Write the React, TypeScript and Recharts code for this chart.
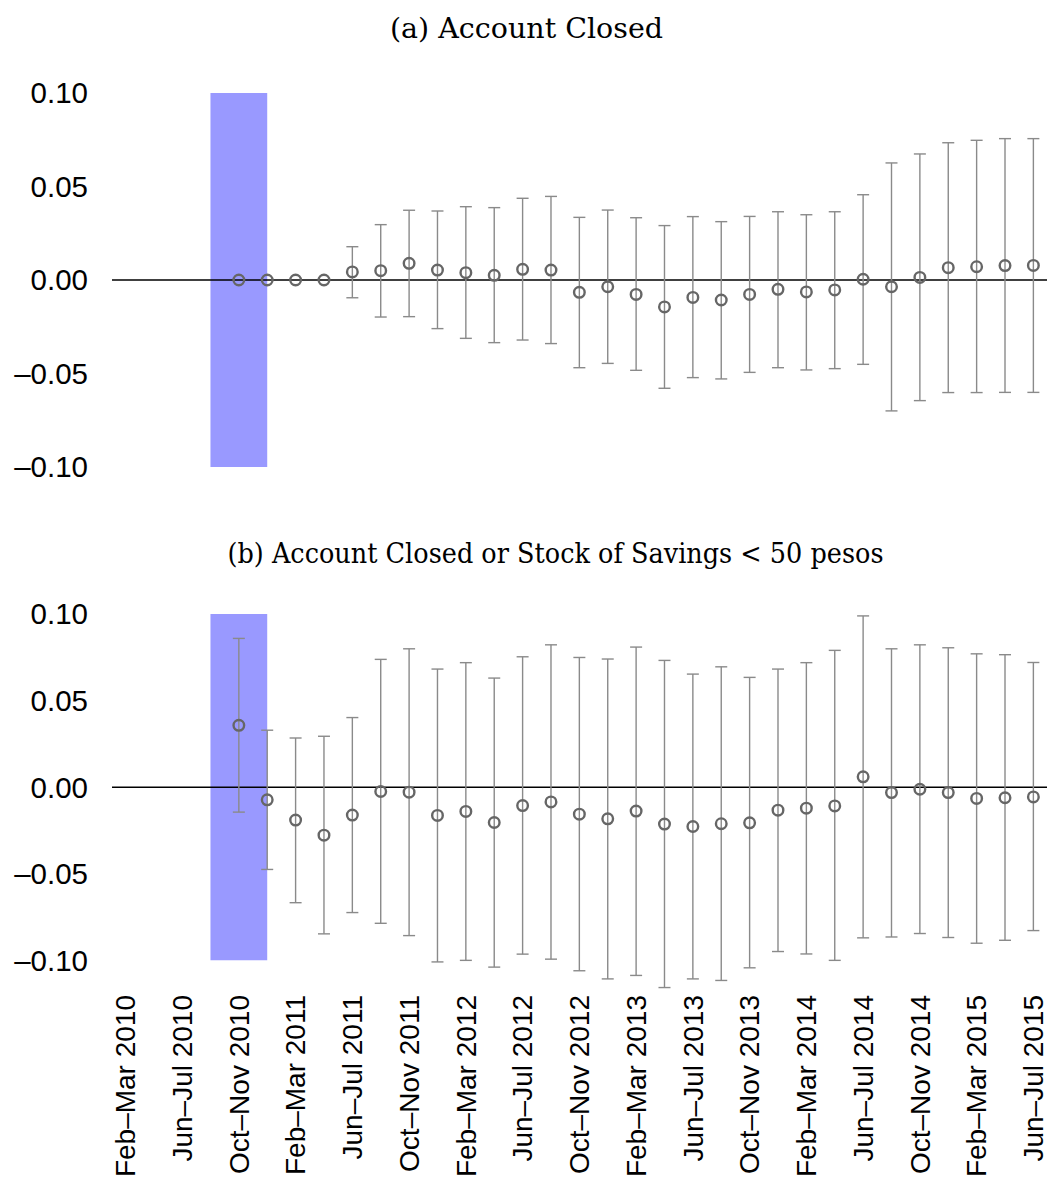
import { ScatterChart, Scatter, XAxis, YAxis, ErrorBar, ReferenceArea, ReferenceLine } from "recharts"

// bimonthly survey periods
const periods = [
  "Feb–Mar 2010", "Apr–May 2010", "Jun–Jul 2010", "Aug–Sep 2010", "Oct–Nov 2010", "Dec–Jan 2011",
  "Feb–Mar 2011", "Apr–May 2011", "Jun–Jul 2011", "Aug–Sep 2011", "Oct–Nov 2011", "Dec–Jan 2012",
  "Feb–Mar 2012", "Apr–May 2012", "Jun–Jul 2012", "Aug–Sep 2012", "Oct–Nov 2012", "Dec–Jan 2013",
  "Feb–Mar 2013", "Apr–May 2013", "Jun–Jul 2013", "Aug–Sep 2013", "Oct–Nov 2013", "Dec–Jan 2014",
  "Feb–Mar 2014", "Apr–May 2014", "Jun–Jul 2014", "Aug–Sep 2014", "Oct–Nov 2014", "Dec–Jan 2015",
  "Feb–Mar 2015", "Apr–May 2015", "Jun–Jul 2015",
]
const xTicks = [0, 2, 4, 6, 8, 10, 12, 14, 16, 18, 20, 22, 24, 26, 28, 30, 32]
const yTicks = [-0.1, -0.05, 0, 0.05, 0.1]

const titleA = "(a) Account Closed"
const titleB = "(b) Account Closed or Stock of Savings < 50 pesos"

// shaded treatment window (period indices)
const shadeFrom = 3
const shadeTo = 5

// (a) Account Closed
const closedEst = [
  null, null, null, null, 0, 0, 0, 0, 0.0043, 0.005, 0.0089, 0.0053, 0.0039, 0.0025, 0.0057, 0.0053,
  -0.0066, -0.0036, -0.0077, -0.0144, -0.0093, -0.0107, -0.0077, -0.005, -0.0064, -0.0053, 0.0004,
  -0.0036, 0.0014, 0.0066, 0.0071, 0.0077, 0.0078,
]
const closedLo = [
  null, null, null, null, null, null, null, null, -0.0095, -0.0198, -0.0196, -0.026, -0.0312, -0.0335,
  -0.0321, -0.034, -0.0469, -0.0446, -0.0483, -0.0579, -0.0522, -0.0529, -0.0494, -0.0469, -0.0481,
  -0.0474, -0.0451, -0.07, -0.0645, -0.0602, -0.0602, -0.0601, -0.0601,
]
const closedHi = [
  null, null, null, null, null, null, null, null, 0.0178, 0.0296, 0.0373, 0.0369, 0.0392, 0.0387,
  0.0437, 0.0447, 0.0335, 0.0374, 0.0333, 0.0291, 0.0339, 0.0312, 0.034, 0.0365, 0.0349, 0.0365,
  0.0456, 0.0626, 0.0674, 0.0734, 0.0747, 0.0756, 0.0756,
]

// (b) Account Closed or Stock of Savings < 50 pesos
const lowEst = [
  null, null, null, null, 0.0357, -0.0073, -0.019, -0.0277, -0.0161, -0.0025, -0.0029, -0.0163,
  -0.014, -0.0204, -0.0106, -0.0085, -0.0156, -0.0183, -0.0138, -0.0213, -0.0227, -0.0211, -0.0206,
  -0.0133, -0.0121, -0.0108, 0.006, -0.0031, -0.0012, -0.0031, -0.0065, -0.0061, -0.0056,
]
const lowLo = [
  null, null, null, null, -0.0144, -0.0475, -0.0667, -0.0847, -0.0724, -0.0786, -0.0857, -0.1009,
  -0.1, -0.1039, -0.0964, -0.0993, -0.106, -0.1107, -0.1087, -0.1157, -0.1107, -0.1116, -0.1043,
  -0.0949, -0.0963, -0.1, -0.087, -0.0865, -0.0845, -0.0868, -0.0901, -0.0884, -0.0828,
]
const lowHi = [
  null, null, null, null, 0.0859, 0.0329, 0.0284, 0.0294, 0.0402, 0.0738, 0.0799, 0.0682, 0.0719,
  0.063, 0.0753, 0.0822, 0.0749, 0.074, 0.0809, 0.0732, 0.0653, 0.0695, 0.0634, 0.0682, 0.0719,
  0.079, 0.0989, 0.0799, 0.0822, 0.0805, 0.077, 0.0765, 0.072,
]

const SANS = "'Liberation Sans', Arial, Helvetica, sans-serif"
const SERIF = "'DejaVu Serif', serif"

function build(est: (number | null)[], lo: (number | null)[], hi: (number | null)[]) {
  const pts: { x: number; y: number }[] = []
  const cis: { x: number; y: number; err: number[] }[] = []
  est.forEach((v, i) => {
    if (v === null) return
    pts.push({ x: i, y: v })
    const l = lo[i]
    const h = hi[i]
    if (l !== null && h !== null) cis.push({ x: i, y: v, err: [v - l, h - v] })
  })
  return { pts, cis }
}

const fmtY = (v: number) => (v < 0 ? "–" : "") + Math.abs(v).toFixed(2)

const Ring = (p: any) => (
  <circle cx={p.cx} cy={p.cy} r={5.3} fill="none" stroke="#666" strokeWidth={2.4} />
)
const Nothing = () => <g />

const XTick = ({ x, y, payload }: any) => (
  <text
    x={x}
    y={y}
    transform={`rotate(-90 ${x} ${y})`}
    textAnchor="end"
    dy="0.35em"
    fontSize={28}
    fontFamily={SANS}
    fill="#000"
  >
    {periods[payload.value]}
  </text>
)

function Panel({ est, lo, hi, yMin, height, top, bottom, xAxisH }: any) {
  const { pts, cis } = build(est, lo, hi)
  return (
    <ScatterChart width={1048} height={height} margin={{ top, right: 1, bottom, left: 0 }}>
      <XAxis
        type="number"
        dataKey="x"
        domain={[-0.47, 32.48]}
        ticks={xTicks}
        interval={0}
        hide={!xAxisH}
        height={xAxisH || 0}
        axisLine={false}
        tickLine={false}
        tickSize={0}
        tickMargin={0}
        tick={<XTick />}
      />
      <YAxis
        type="number"
        dataKey="y"
        domain={[yMin, 0.1]}
        ticks={yTicks}
        interval={0}
        width={112}
        axisLine={false}
        tickLine={false}
        tickMargin={18}
        tickFormatter={fmtY}
        tick={{ fontSize: 29.5, fontFamily: SANS, fill: "#000" }}
      />
      <ReferenceArea
        x1={shadeFrom}
        x2={shadeTo}
        y1={-0.1}
        y2={0.1}
        fill="#9999ff"
        fillOpacity={1}
        stroke="none"
        ifOverflow="visible"
      />
      <ReferenceLine y={0} stroke="#000" strokeWidth={1.5} />
      <Scatter data={cis} shape={<Nothing />} isAnimationActive={false}>
        <ErrorBar dataKey="err" direction="y" width={6} stroke="#8a8a8a" strokeWidth={1.4} isAnimationActive={false} />
      </Scatter>
      <Scatter data={pts} shape={Ring} isAnimationActive={false} />
    </ScatterChart>
  )
}

export default function App() {
  return (
    <div style={{ position: "absolute", left: 0, top: 0, width: 1048, height: 1178, background: "#fff", overflow: "hidden" }}>
      <svg width={1048} height={1178} style={{ position: "absolute", left: 0, top: 0 }}>
        <text x={526.5} y={38} textAnchor="middle" fontSize={27} fontFamily={SERIF} fill="#000"
          textLength={273} lengthAdjust="spacingAndGlyphs">
          {titleA}
        </text>
        <text x={555.5} y={563} textAnchor="middle" fontSize={27} fontFamily={SERIF} fill="#000"
          textLength={656} lengthAdjust="spacingAndGlyphs">
          {titleB}
        </text>
      </svg>
      <div style={{ position: "absolute", left: 0, top: 0 }}>
        <Panel est={closedEst} lo={closedLo} hi={closedHi} yMin={-0.1} height={500} top={93} bottom={33} xAxisH={0} />
      </div>
      <div style={{ position: "absolute", left: 0, top: 520 }}>
        <Panel est={lowEst} lo={lowLo} hi={lowHi} yMin={-0.12} height={658} top={94} bottom={0} xAxisH={183} />
      </div>
    </div>
  )
}
